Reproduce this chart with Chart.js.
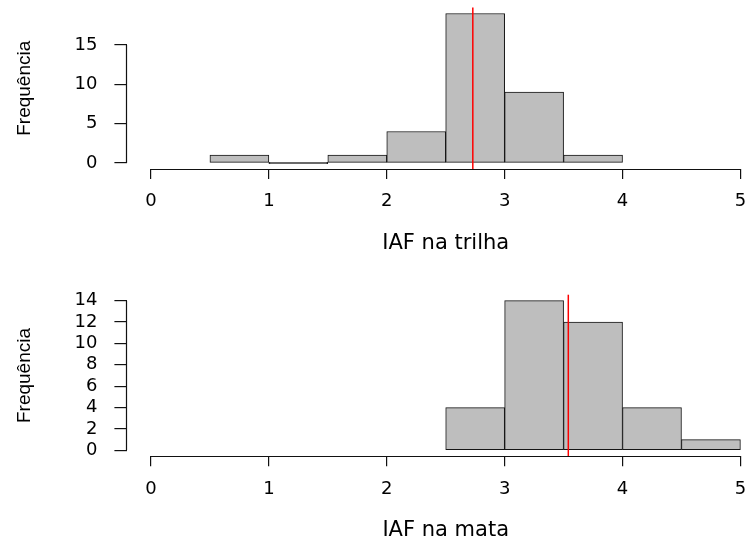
<!DOCTYPE html>
<html>
<head>
<meta charset="utf-8">
<script src="https://cdn.jsdelivr.net/npm/chart.js@4.4.1/dist/chart.umd.min.js"></script>
<style>
    html, body { margin: 0; padding: 0; background: #fff; overflow: hidden; width: 748px; height: 543px; }
    canvas { position: absolute; left: 0; }
    #trilha-chart { top: 0; }
    #mata-chart { top: 271px; }
</style>
</head>
<body>
<canvas id="trilha-chart" width="800" height="271"></canvas>
<canvas id="mata-chart" width="800" height="272"></canvas>
<script>
// Dados
const xTicks = [0, 1, 2, 3, 4, 5];

const trilhaMids = [0.75, 1.25, 1.75, 2.25, 2.75, 3.25, 3.75];
const trilhaCounts = [1, 0, 1, 4, 19, 9, 1];
const trilhaMean = 2.73;
const trilhaYTicks = [0, 5, 10, 15];

const mataMids = [2.75, 3.25, 3.75, 4.25, 4.75];
const mataCounts = [4, 14, 12, 4, 1];
const mataMean = 3.54;
const mataYTicks = [0, 2, 4, 6, 8, 10, 12, 14];

// Eixos no estilo do R + linha da média
const rStyle = {
    id: 'rStyle',
    afterDatasetsDraw(chart, args, opts) {
        const { ctx, chartArea, scales: { x, y } } = chart;

        // linha vermelha (média)
        const mx = x.getPixelForValue(opts.mean);
        ctx.save();
        ctx.strokeStyle = '#ff0000';
        ctx.lineWidth = 1.5;
        ctx.beginPath();
        ctx.moveTo(mx, chartArea.top);
        ctx.lineTo(mx, chartArea.bottom);
        ctx.stroke();

        // linhas dos eixos, só entre o primeiro e o último tick
        ctx.strokeStyle = '#111';
        ctx.lineWidth = 1.2;
        const yVals = y.ticks.map(t => t.value);
        const xVals = x.ticks.map(t => t.value);
        const left = Math.round(chartArea.left) - 0.5;
        const bottom = Math.round(chartArea.bottom) + 0.5;
        ctx.beginPath();
        ctx.moveTo(left, y.getPixelForValue(Math.min(...yVals)));
        ctx.lineTo(left, y.getPixelForValue(Math.max(...yVals)));
        ctx.moveTo(x.getPixelForValue(Math.min(...xVals)), bottom);
        ctx.lineTo(x.getPixelForValue(Math.max(...xVals)), bottom);
        ctx.stroke();
        ctx.restore();
    }
};

function noPadding(scale) {
    scale.paddingTop = 0;
    scale.paddingBottom = 0;
    scale.paddingLeft = 0;
    scale.paddingRight = 0;
}

function createHistogram(canvasId, mids, counts, mean, yTicks, xLabel, opt) {
    const ctx = document.getElementById(canvasId).getContext('2d');
    const maxCount = Math.max(...counts);

    new Chart(ctx, {
        type: 'bar',
        data: {
            datasets: [{
                data: mids.map((m, i) => ({ x: m, y: counts[i] })),
                backgroundColor: '#bebebe',
                borderColor: '#151515',
                borderWidth: 1,
                borderSkipped: false,
                minBarLength: 1.5,
                barPercentage: 1,
                categoryPercentage: 1
            }]
        },
        options: {
            responsive: false,
            animation: false,
            layout: { padding: { top: opt.top, right: 36, left: 0, bottom: 0 } },
            plugins: {
                legend: { display: false },
                tooltip: { enabled: false },
                rStyle: { mean: mean }
            },
            scales: {
                x: {
                    type: 'linear',
                    offset: false,
                    min: -0.2,
                    max: 5.2,
                    afterBuildTicks: s => { s.ticks = xTicks.map(v => ({ value: v })); },
                    afterFit: s => { s.height = opt.xHeight; noPadding(s); },
                    grid: { offset: false, drawOnChartArea: false, tickLength: 10, color: '#111', lineWidth: 1.2 },
                    border: { display: false },
                    ticks: {
                        padding: 12,
                        color: '#000',
                        autoSkip: false,
                        maxRotation: 0,
                        font: { family: 'DejaVu Sans', size: 18 }
                    },
                    title: {
                        display: true,
                        text: xLabel,
                        color: '#000',
                        font: { family: 'DejaVu Sans', size: 21 },
                        padding: { top: 0, bottom: opt.titlePad }
                    }
                },
                y: {
                    min: -0.04 * maxCount,
                    max: 1.04 * maxCount,
                    afterBuildTicks: s => { s.ticks = yTicks.map(v => ({ value: v })); },
                    afterFit: s => { s.width = 127.4; noPadding(s); },
                    grid: { drawOnChartArea: false, tickLength: 13, color: '#111', lineWidth: 1.2 },
                    border: { display: false },
                    ticks: {
                        padding: 17,
                        color: '#000',
                        autoSkip: false,
                        font: { family: 'DejaVu Sans', size: 18 }
                    },
                    title: {
                        display: true,
                        text: 'Frequência',
                        color: '#000',
                        font: { family: 'Liberation Sans', size: 19 },
                        padding: { top: 13.2, bottom: 0 }
                    }
                }
            }
        },
        plugins: [rStyle]
    });
}

createHistogram('trilha-chart', trilhaMids, trilhaCounts, trilhaMean, trilhaYTicks, 'IAF na trilha',
    { top: 7.5, xHeight: 102, titlePad: 14.7 });
createHistogram('mata-chart', mataMids, mataCounts, mataMean, mataYTicks, 'IAF na mata',
    { top: 23.7, xHeight: 86.7, titlePad: 0 });
</script>
</body>
</html>
